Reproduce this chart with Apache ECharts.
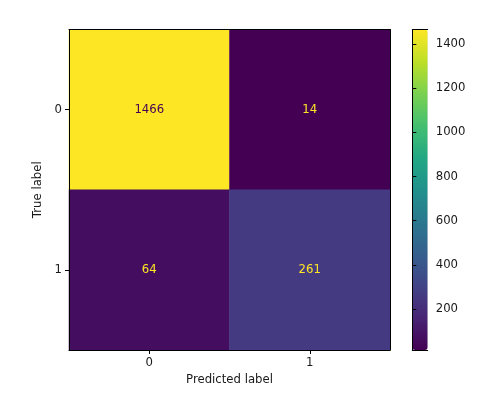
<!DOCTYPE html>
<html><head><meta charset="utf-8">
<script src="https://cdn.jsdelivr.net/npm/echarts@6/dist/echarts.min.js"></script>
<style>html,body{margin:0;padding:0;background:#fff}#c{width:482px;height:396px}</style>
</head><body><div id="c"></div>
<script>
const predictedLabels = ['0', '1'];
const trueLabels = ['0', '1'];
// rows = true label, columns = predicted label
const row0 = [1466, 14];
const row1 = [64, 261];
const colorbarTicks = [200, 400, 600, 800, 1000, 1200, 1400];

const matrix = [row0, row1];
const allVals = row0.concat(row1);
const vmin = Math.min.apply(null, allVals);
const vmax = Math.max.apply(null, allVals);
const thresh = (vmin + vmax) / 2;
const viridis = ['#440154','#482475','#414487','#355f8d','#2a788e','#21918c','#22a884','#44bf70','#7ad151','#bddf26','#fde725'];

const data = [];
matrix.forEach((row, i) => row.forEach((v, j) => {
  data.push({ value: [j, i, v], label: { color: v > thresh ? '#440154' : '#fde725' } });
}));

const FONT = 'DejaVu Sans';
const TXT = '#1a1a1a';
const FS = 11.7;
const G = { left: 69, top: 29.5, width: 321, height: 320.5 };
const CB = { left: 412.3, top: 29.5, width: 15.4, height: 320.5 };

const chart = echarts.init(document.getElementById('c'), null, { renderer: 'canvas' });
chart.setOption({
  animation: false,
  backgroundColor: '#fff',
  textStyle: { fontFamily: FONT },
  grid: [
    Object.assign({}, G, { containLabel: false }),
    Object.assign({}, CB, { containLabel: false })
  ],
  xAxis: [
    { type: 'category', gridIndex: 0, data: predictedLabels, position: 'bottom', z: 5,
      name: 'Predicted label', nameLocation: 'middle', nameGap: 23,
      nameTextStyle: { fontFamily: FONT, fontSize: FS, color: TXT },
      axisLine: { show: true, lineStyle: { color: '#000', width: 1 } },
      axisTick: { show: true, alignWithLabel: true, length: 4, lineStyle: { color: '#000' } },
      axisLabel: { fontFamily: FONT, fontSize: FS, color: TXT, margin: 7 },
      splitLine: { show: false } },
    { type: 'category', gridIndex: 0, data: predictedLabels, position: 'top', z: 5,
      axisLine: { show: true, lineStyle: { color: '#000', width: 1 } },
      axisTick: { show: false }, axisLabel: { show: false }, splitLine: { show: false } },
    { type: 'value', gridIndex: 1, position: 'bottom', z: 5, min: 0, max: 1,
      axisLine: { show: true, lineStyle: { color: '#000', width: 1 } },
      axisTick: { show: false }, axisLabel: { show: false }, splitLine: { show: false } },
    { type: 'value', gridIndex: 1, position: 'top', z: 5, min: 0, max: 1,
      axisLine: { show: true, lineStyle: { color: '#000', width: 1 } },
      axisTick: { show: false }, axisLabel: { show: false }, splitLine: { show: false } }
  ],
  yAxis: [
    { type: 'category', gridIndex: 0, data: trueLabels, inverse: true, position: 'left', z: 5,
      name: 'True label', nameLocation: 'middle', nameGap: 20, nameRotate: 90,
      nameTextStyle: { fontFamily: FONT, fontSize: FS, color: TXT },
      axisLine: { show: true, lineStyle: { color: '#000', width: 1 } },
      axisTick: { show: true, alignWithLabel: true, length: 4, lineStyle: { color: '#000' } },
      axisLabel: { fontFamily: FONT, fontSize: FS, color: TXT, margin: 7 },
      splitLine: { show: false } },
    { type: 'category', gridIndex: 0, data: trueLabels, inverse: true, position: 'right', z: 5,
      axisLine: { show: true, lineStyle: { color: '#000', width: 1 } },
      axisTick: { show: false }, axisLabel: { show: false }, splitLine: { show: false } },
    { type: 'value', gridIndex: 1, position: 'right', z: 5, min: vmin, max: vmax,
      axisLine: { show: true, lineStyle: { color: '#000', width: 1 } },
      axisTick: { show: true, length: 4, customValues: colorbarTicks, lineStyle: { color: '#000' } },
      axisLabel: { fontFamily: FONT, fontSize: FS, color: TXT, margin: 8, customValues: colorbarTicks,
        formatter: v => String(v) },
      splitLine: { show: false } },
    { type: 'value', gridIndex: 1, position: 'left', z: 5, min: vmin, max: vmax,
      axisLine: { show: true, lineStyle: { color: '#000', width: 1 } },
      axisTick: { show: false }, axisLabel: { show: false }, splitLine: { show: false } }
  ],
  visualMap: {
    type: 'continuous', min: vmin, max: vmax, seriesIndex: 0,
    orient: 'vertical', left: CB.left, top: CB.top,
    itemWidth: CB.width, itemHeight: CB.height, padding: 0,
    text: null, showLabel: false, calculable: false, hoverLink: false, realtime: false,
    inRange: { color: viridis }
  },
  series: [{
    type: 'heatmap', xAxisIndex: 0, yAxisIndex: 0, data: data,
    label: { show: true, fontFamily: FONT, fontSize: FS, formatter: p => String(p.value[2]) },
    itemStyle: { borderWidth: 0 },
    emphasis: { disabled: true }
  }]
});
</script></body></html>
